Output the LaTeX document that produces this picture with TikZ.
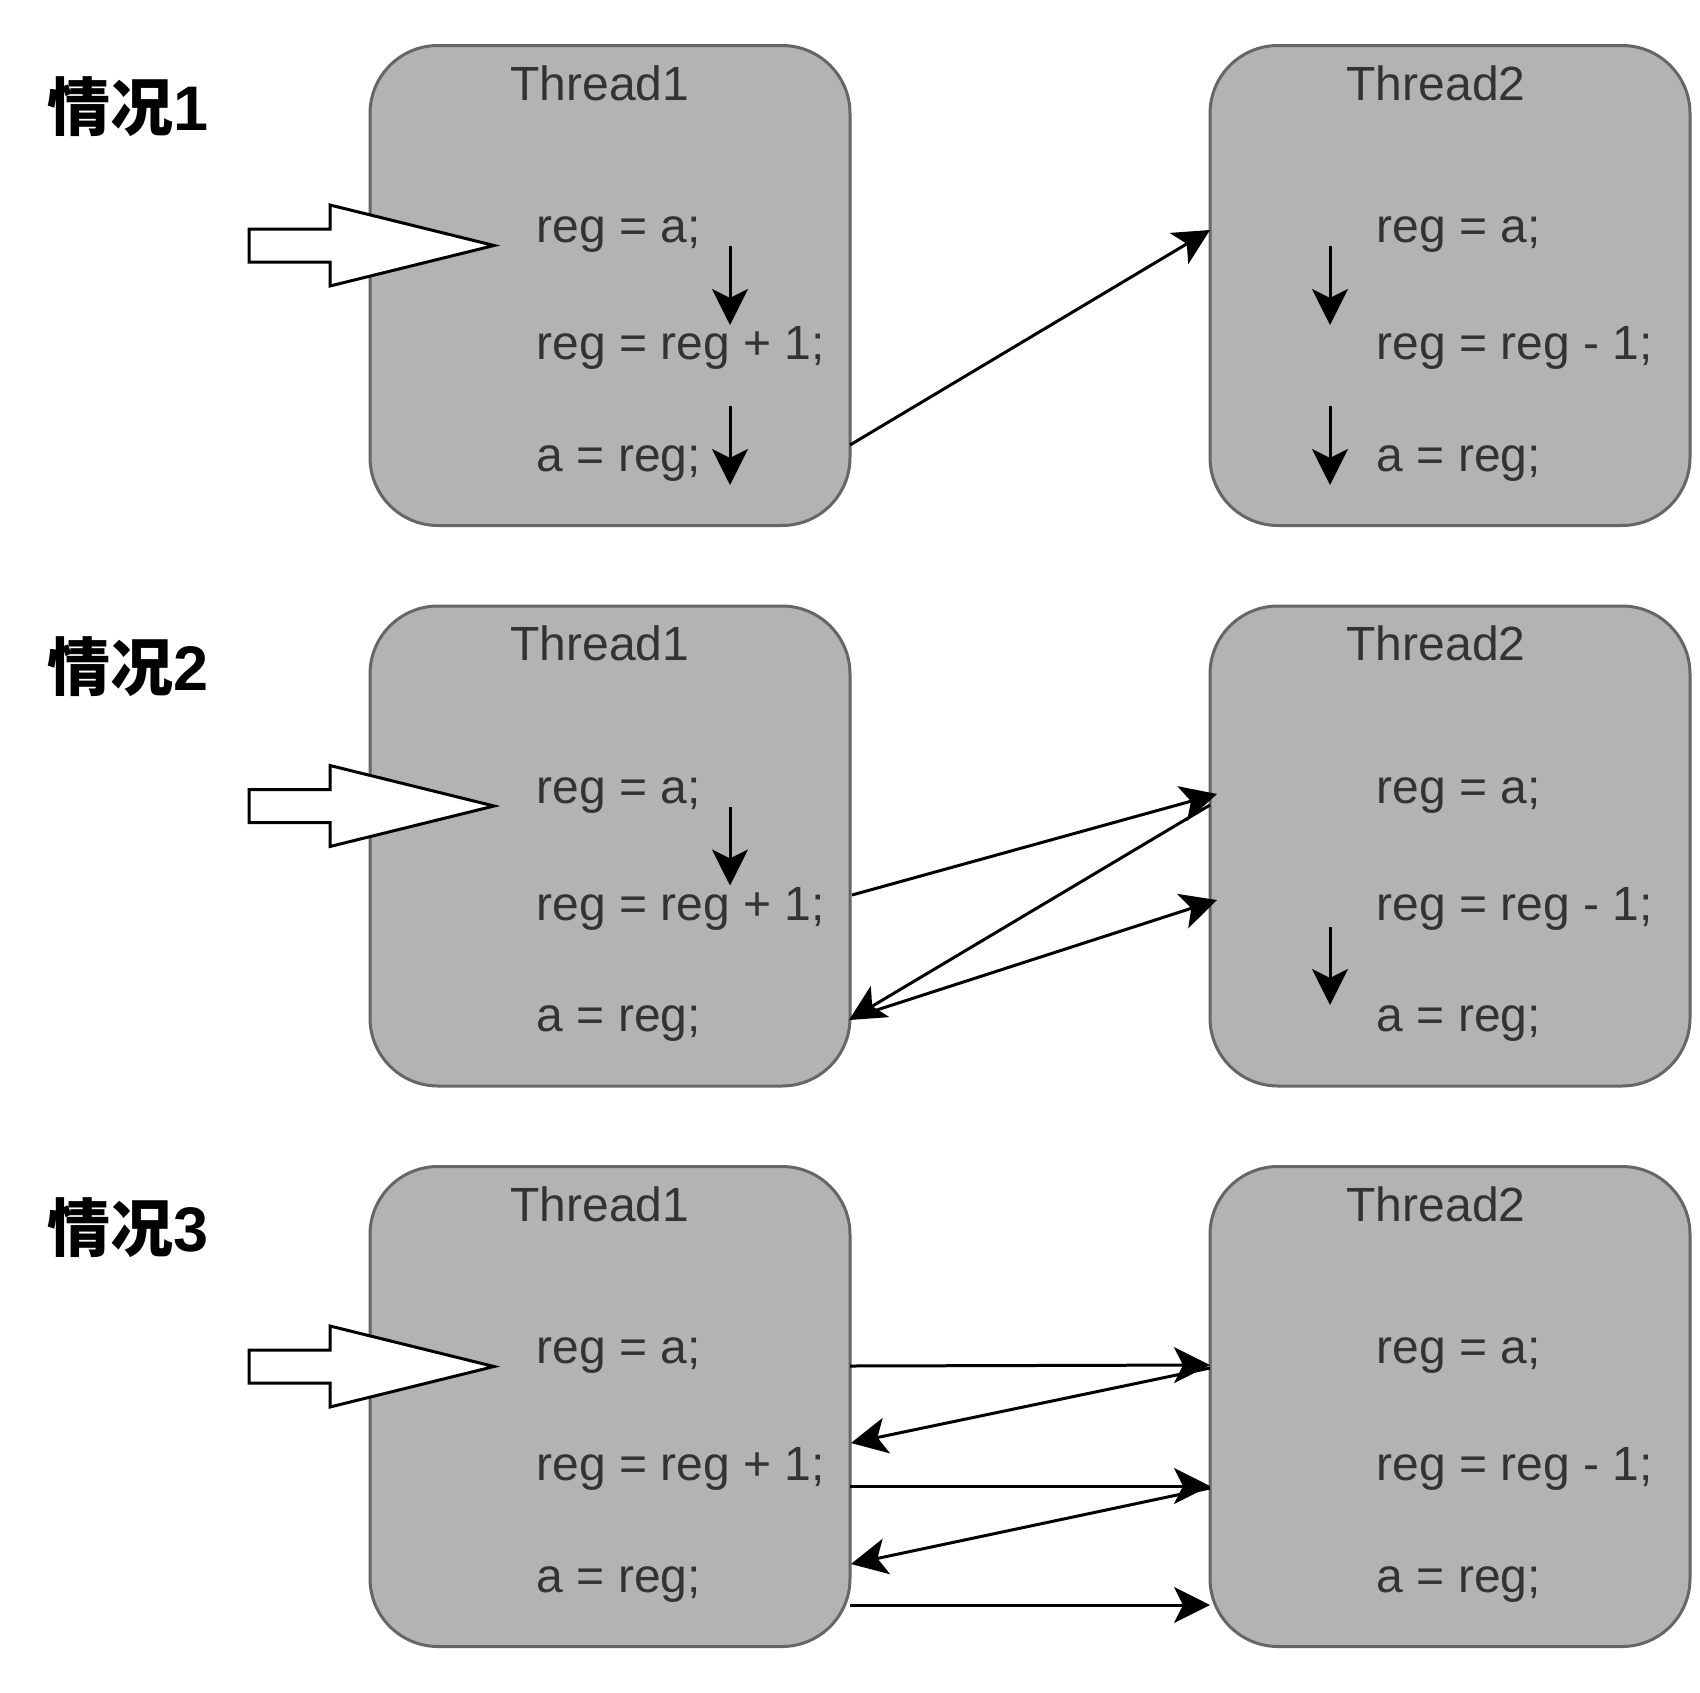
\documentclass[tikz,border=0pt]{standalone}
\usepackage{fontspec}
\setmainfont{Liberation Sans}
\newfontfamily\cjk{Noto Sans CJK SC}
\usetikzlibrary{arrows.meta}
\definecolor{boxfill}{HTML}{B3B3B3}
\definecolor{boxline}{HTML}{666666}
\definecolor{txt}{HTML}{333333}
\begin{document}
\begin{tikzpicture}[x=1pt,y=-1pt,
 tbox/.style={draw=boxline, fill=boxfill, line width=3pt, rounded corners=68pt, minimum width=480pt, minimum height=480pt, inner sep=0pt},
 code/.style={anchor=base west, inner sep=0pt, text=txt, font=\fontsize{48}{57}\selectfont},
 ttl/.style={anchor=base, inner sep=0pt, text=txt, font=\fontsize{48}{57}\selectfont},
 lbl/.style={anchor=base west, inner sep=0pt, font=\fontsize{63}{70}\selectfont\bfseries},
 flow/.style={line width=3pt, -{Stealth[length=36pt,width=36pt,inset=9pt]}},
 big/.style={draw=black, fill=white, line width=3pt, line join=miter}]
\useasboundingbox (0,0) rectangle (1700,1692);

% ---------- boxes ----------
\node[tbox] (t1a) at (610,285.5) {};
\node[tbox] (t2a) at (1450,285.5) {};
\node[tbox] (t1b) at (610,846) {};
\node[tbox] (t2b) at (1450,846) {};
\node[tbox] (t1c) at (610,1406.5) {};
\node[tbox] (t2c) at (1450,1406.5) {};

% ---------- labels ----------
\node[lbl] (la) at (47,130) {{\cjk 情况}1};
\node[lbl] (lb) at (47,690.5) {{\cjk 情况}2};
\node[lbl] (lc) at (47,1251) {{\cjk 情况}3};

% ---------- titles ----------
\node[ttl] (h1a) at (600,100) {Thread1};
\node[ttl] (h2a) at (1436,100) {Thread2};
\node[ttl] (h1b) at (600,660.5) {Thread1};
\node[ttl] (h2b) at (1436,660.5) {Thread2};
\node[ttl] (h1c) at (600,1221) {Thread1};
\node[ttl] (h2c) at (1436,1221) {Thread2};

% ---------- code lines ----------
\node[code] (a1) at (536.5,242.5) {reg = a;};
\node[code] (a2) at (536.5,359.5) {reg = reg + 1;};
\node[code] (a3) at (536.5,471) {a = reg;};
\node[code] (b1) at (1376.5,242.5) {reg = a;};
\node[code] (b2) at (1376.5,359.5) {reg = reg - 1;};
\node[code] (b3) at (1376.5,471) {a = reg;};

\node[code] (c1) at (536.5,803) {reg = a;};
\node[code] (c2) at (536.5,920) {reg = reg + 1;};
\node[code] (c3) at (536.5,1031.5) {a = reg;};
\node[code] (d1) at (1376.5,803) {reg = a;};
\node[code] (d2) at (1376.5,920) {reg = reg - 1;};
\node[code] (d3) at (1376.5,1031.5) {a = reg;};

\node[code] (e1) at (536.5,1363.5) {reg = a;};
\node[code] (e2) at (536.5,1480.5) {reg = reg + 1;};
\node[code] (e3) at (536.5,1592) {a = reg;};
\node[code] (f1) at (1376.5,1363.5) {reg = a;};
\node[code] (f2) at (1376.5,1480.5) {reg = reg - 1;};
\node[code] (f3) at (1376.5,1592) {a = reg;};

% ---------- big hollow arrows ----------
\foreach \dy in {0,560.5,1121}{
  \draw[big] (249,229+\dy) -- (330,229+\dy) -- (330,205+\dy) -- (494,245.5+\dy)
     -- (330,286+\dy) -- (330,262+\dy) -- (249,262+\dy) -- cycle;
}

% ---------- small step arrows ----------
\coordinate (s1) at (730,246);  \coordinate (s1e) at (730,325);
\coordinate (s2) at (730,406);  \coordinate (s2e) at (730,485);
\coordinate (s3) at (1330,246); \coordinate (s3e) at (1330,325);
\coordinate (s4) at (1330,406); \coordinate (s4e) at (1330,485);
\coordinate (s5) at (730,806.5); \coordinate (s5e) at (730,885.5);
\coordinate (s6) at (1330,927); \coordinate (s6e) at (1330,1005);
\draw[flow] (s1) -- (s1e);
\draw[flow] (s2) -- (s2e);
\draw[flow] (s3) -- (s3e);
\draw[flow] (s4) -- (s4e);
\draw[flow] (s5) -- (s5e);
\draw[flow] (s6) -- (s6e);

% ---------- row 1 cross arrow ----------
\coordinate (x1) at (850,445); \coordinate (x1e) at (1210,230);
\draw[flow] (x1) -- (x1e);

% ---------- row 2 cross arrows ----------
\coordinate (y1) at (852,895);  \coordinate (y1e) at (1217,794);
\coordinate (y2) at (1210,805); \coordinate (y2e) at (849,1020);
\coordinate (y3) at (852,1018); \coordinate (y3e) at (1217,900);
\draw[flow] (y1) -- (y1e);
\draw[flow] (y2) -- (y2e);
\draw[flow] (y3) -- (y3e);

% ---------- row 3 cross arrows ----------
\coordinate (z1) at (850,1366);  \coordinate (z1e) at (1210,1365);
\coordinate (z2) at (1210,1368); \coordinate (z2e) at (851,1443);
\coordinate (z3) at (850,1486);  \coordinate (z3e) at (1210,1486);
\coordinate (z4) at (1210,1488); \coordinate (z4e) at (851,1564);
\coordinate (z5) at (850,1605);  \coordinate (z5e) at (1210,1605);
\draw[flow] (z1) -- (z1e);
\draw[flow] (z2) -- (z2e);
\draw[flow] (z3) -- (z3e);
\draw[flow] (z4) -- (z4e);
\draw[flow] (z5) -- (z5e);
\end{tikzpicture}
\end{document}
